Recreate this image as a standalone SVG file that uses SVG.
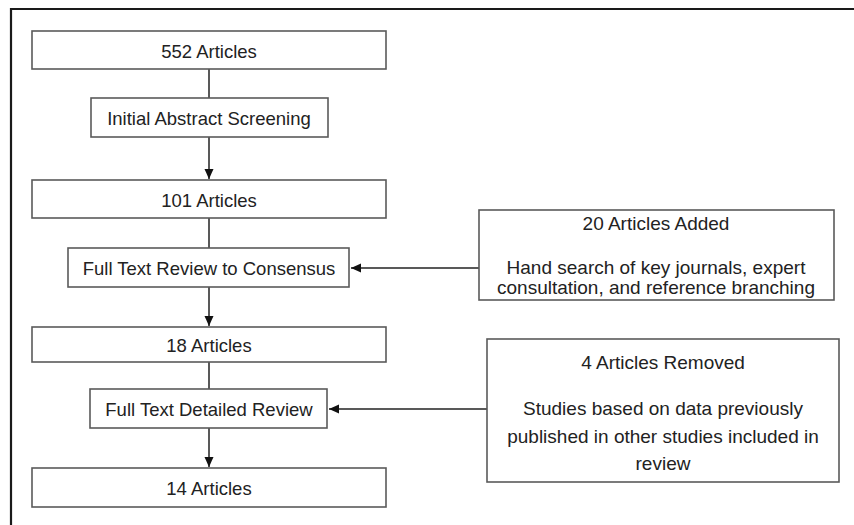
<svg xmlns="http://www.w3.org/2000/svg" width="854" height="525" viewBox="0 0 854 525">
<defs>
<marker id="ah" markerUnits="userSpaceOnUse" markerWidth="10" markerHeight="11" refX="10" refY="5" orient="auto">
<path d="M0,0.5 L10,5 L0,9.5 Z" fill="#111"/>
</marker>
<style>
.box{fill:#fff;stroke:#5a5a5a;stroke-width:1.6}
.t{font-family:"Liberation Sans",Arial,sans-serif;font-size:18.5px;fill:#222;text-anchor:middle;dominant-baseline:central}
.r{font-size:19px}
.c{stroke:#222;stroke-width:1.5;fill:none}
</style>
</defs>
<rect width="854" height="525" fill="#fff"/>
<path d="M11,525 L11,9 L854,9" fill="none" stroke="#1a1a1a" stroke-width="2.2"/>
<g id="connectors">
<line class="c" x1="209" y1="69" x2="209" y2="98"/>
<line class="c" x1="209" y1="137" x2="209" y2="179" marker-end="url(#ah)"/>
<line class="c" x1="209" y1="218" x2="209" y2="248"/>
<line class="c" x1="209" y1="287" x2="209" y2="326" marker-end="url(#ah)"/>
<line class="c" x1="209" y1="362" x2="209" y2="389"/>
<line class="c" x1="209" y1="428" x2="209" y2="467" marker-end="url(#ah)"/>
<line class="c" x1="479" y1="268" x2="351" y2="268" marker-end="url(#ah)"/>
<line class="c" x1="487" y1="409" x2="329" y2="409" marker-end="url(#ah)"/>
</g>
<g id="n552"><rect class="box" x="32" y="31" width="354" height="38"/><text class="t" x="209" y="51">552 Articles</text></g>
<g id="nScreen"><rect class="box" x="91" y="98" width="237" height="39"/><text class="t" x="209" y="118">Initial Abstract Screening</text></g>
<g id="n101"><rect class="box" x="32" y="180" width="354" height="38"/><text class="t" x="209" y="200">101 Articles</text></g>
<g id="nConsensus"><rect class="box" x="68" y="248" width="281" height="39"/><text class="t" x="209" y="268">Full Text Review to Consensus</text></g>
<g id="n18"><rect class="box" x="32" y="327" width="354" height="35"/><text class="t" x="209" y="345">18 Articles</text></g>
<g id="nDetailed"><rect class="box" x="90" y="389" width="237" height="39"/><text class="t" x="209" y="409">Full Text Detailed Review</text></g>
<g id="n14"><rect class="box" x="32" y="468" width="354" height="39"/><text class="t" x="209" y="488">14 Articles</text></g>
<g id="nAdded"><rect class="box" x="479" y="210" width="355" height="90"/>
<text class="t r" x="656" y="223">20 Articles Added</text>
<text class="t r" x="656" y="267">Hand search of key journals, expert</text>
<text class="t r" x="656" y="287">consultation, and reference branching</text></g>
<g id="nRemoved"><rect class="box" x="487" y="339" width="352" height="143"/>
<text class="t r" x="663" y="362">4 Articles Removed</text>
<text class="t r" x="663" y="408">Studies based on data previously</text>
<text class="t r" x="663" y="436">published in other studies included in</text>
<text class="t r" x="663" y="463">review</text></g>
</svg>
